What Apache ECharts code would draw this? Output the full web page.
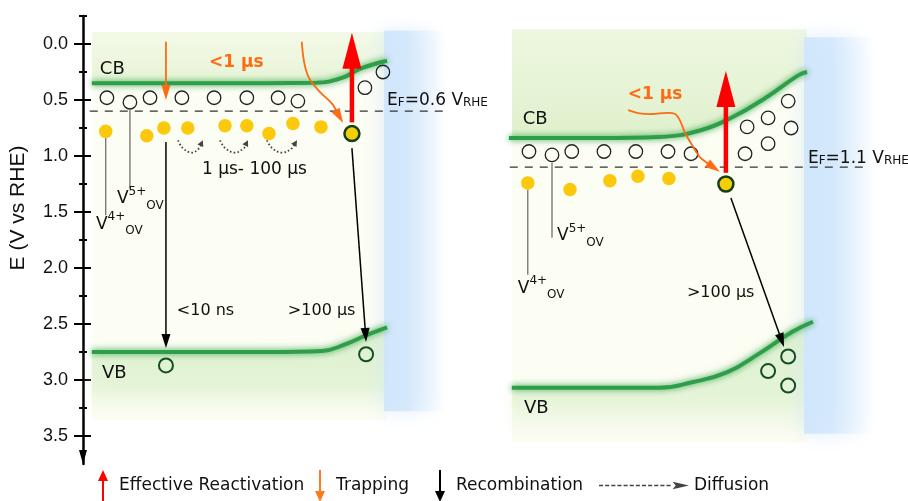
<!DOCTYPE html>
<html>
<head>
<meta charset="utf-8">
<script src="https://cdn.jsdelivr.net/npm/echarts@6/dist/echarts.min.js"></script>
<style>
  html, body { margin: 0; padding: 0; background: #ffffff; }
  #chart { width: 908px; height: 501px; }
</style>
</head>
<body>
<div id="chart"></div>
<script>
// ---------------------------------------------------------------
// Energy scale (V vs RHE), increasing downward
// ---------------------------------------------------------------
const energyTicks = [0, 0.5, 1, 1.5, 2, 2.5, 3, 3.5];
const energyMinorTicks = [-0.25, 0.25, 0.75, 1.25, 1.75, 2.25, 2.75, 3.25];

// Position across the film: 0 = back side, 100 = electrolyte interface.
// Film A: EF = 0.6 V_RHE
const fermiA = 0.6;
const conductionA = [[0, 0.35], [40, 0.35], [76, 0.345], [85, 0.30], [91, 0.22], [100, 0.15]];
const valenceA = [[0, 2.75], [60, 2.75], [78, 2.74], [86, 2.68], [93, 2.60], [100, 2.53]];
const emptyStatesA = [[5.1, 0.48], [12.9, 0.52], [19.7, 0.48], [30.5, 0.48], [41.4, 0.48],
  [52.5, 0.48], [63.1, 0.48], [69.8, 0.51], [92.5, 0.39], [98.6, 0.25]];
const filledStatesA = [[4.7, 0.78], [18.6, 0.82], [24.4, 0.75], [32.5, 0.75], [45.1, 0.73],
  [52.5, 0.73], [60, 0.80], [68.1, 0.71], [77.6, 0.74]];
const activeElectronA = [[88.1, 0.80]];
const holesA = [[25.1, 2.87], [92.9, 2.77]];
const reactivationA = [[[88.1, 0.70], [88.1, -0.10]]];
const trappingA = [
  [[25.1, -0.02], [25.1, 0.50]],
  [[71.1, -0.02], [71.6, 0.11], [72.5, 0.23], [73.9, 0.32], [77.3, 0.43], [81.3, 0.53], [85.1, 0.705]]
];
const recombinationA = [[[25.1, 0.875], [25.1, 2.714]], [[88.1, 0.93], [92.9, 2.66]]];
const diffusionA = [
  [[29.2, 0.86], [30.8, 0.93], [33.9, 0.97], [36.4, 0.93], [37.6, 0.86]],
  [[43.4, 0.86], [45.2, 0.93], [48.5, 0.97], [51.5, 0.93], [52.9, 0.86]],
  [[59.3, 0.86], [61.1, 0.93], [64.4, 0.97], [67.8, 0.93], [69.5, 0.86]]
];
const leadersA = [[[4.7, 0.84], [4.7, 1.53]], [[12.9, 0.59], [12.9, 1.29]]];

// Film B: EF = 1.1 V_RHE
const fermiB = 1.1;
const conductionB = [[-1, 0.84], [30, 0.84], [50, 0.83], [64, 0.77], [75, 0.65], [86, 0.48], [97, 0.28], [100, 0.25]];
const valenceB = [[0, 3.07], [50, 3.07], [61, 3.02], [73, 2.93], [84, 2.76], [95, 2.57], [102, 2.48]];
const emptyStatesB = [[5.8, 0.96], [13.6, 0.99], [20.3, 0.96], [31.2, 0.96], [42, 0.96], [52.9, 0.96],
  [60.7, 0.98], [79, 0.98], [86.8, 0.89], [79.7, 0.74], [86.8, 0.66], [94.6, 0.75], [93.6, 0.51]];
const filledStatesB = [[5.4, 1.24], [19.7, 1.30], [33.2, 1.22], [42.7, 1.18], [53.2, 1.20]];
const activeElectronB = [[72.5, 1.25]];
const holesB = [[93.6, 2.79], [86.8, 2.92], [93.6, 3.05]];
const reactivationB = [[[72.5, 1.15], [72.5, 0.24]]];
const trappingB = [[[39.4, 0.59], [43.4, 0.62], [47.8, 0.625], [52.5, 0.615], [55.3, 0.625], [56.9, 0.68],
  [58.6, 0.79], [61, 0.90], [63.7, 1.01], [67.1, 1.08], [70.5, 1.14]]];
const recombinationB = [[[74.2, 1.375], [92.2, 2.705]]];
const leadersB = [[[5.4, 1.30], [5.4, 2.06]], [[13.6, 1.06], [13.6, 1.73]]];

// ---------------------------------------------------------------
// Styling helpers
// ---------------------------------------------------------------
const diagramFont = '"DejaVu Sans", Verdana, sans-serif';
const axisFont = '"Liberation Sans", Arial, sans-serif';
const LG = echarts.graphic.LinearGradient;

const Y_A = 0, Y_B = 4;   // y axis used by each film

function panelSeries(gi, yi, cb, vb, box) {
  return {
    type: 'custom', xAxisIndex: gi, yAxisIndex: yi, silent: true, z: 1,
    data: [[0, box.top]],
    renderItem(params, api) {
      const p = (d) => api.coord(d);
      const tl = p([0, box.top]), br = p([100, box.bottom]);
      const kids = [];
      kids.push({ type: 'rect', shape: { x: tl[0], y: tl[1], width: br[0] - tl[0], height: br[1] - tl[1] },
        style: { fill: '#fcfdf3' } });
      // tint above the conduction band
      const topPts = [p([0, box.top]), p([100, box.top])]
        .concat(cb.slice().reverse().map(d => p([Math.max(0, Math.min(100, d[0])), d[1]])));
      kids.push({ type: 'polygon', shape: { points: topPts },
        style: { fill: new LG(0, 0, 0, 1, [
          { offset: 0, color: 'rgba(228,243,210,' + box.topTint[0] + ')' },
          { offset: 1, color: 'rgba(220,239,200,' + box.topTint[1] + ')' }]) } });
      // tint below the valence band
      const botPts = vb.map(d => p([Math.max(0, Math.min(100, d[0])), d[1]]))
        .concat([p([100, box.bottom - 0.06]), p([0, box.bottom - 0.06])]);
      kids.push({ type: 'polygon', shape: { points: botPts },
        style: { fill: new LG(0, 0, 0, 1, [
          { offset: 0, color: 'rgba(210,237,194,0.7)' },
          { offset: 0.7, color: 'rgba(220,240,204,0.5)' },
          { offset: 1, color: 'rgba(250,252,240,0.15)' }]),
          shadowBlur: 14, shadowColor: 'rgba(218,239,202,0.7)' } });
      // electrolyte side
      const b0 = p([box.blue[0], box.blueTop]), b1 = p([box.blue[1], box.blueBottom]);
      kids.push({ type: 'rect', shape: { x: b0[0], y: b0[1], width: b1[0] - b0[0], height: b1[1] - b0[1] },
        style: { fill: new LG(0, 0, 1, 0, [
          { offset: 0, color: 'rgba(206,229,251,0.9)' },
          { offset: 0.4, color: 'rgba(210,231,251,0.8)' },
          { offset: 1, color: 'rgba(228,240,252,0.0)' }]),
          shadowBlur: 18, shadowColor: 'rgba(210,231,251,0.85)' } });
      return { type: 'group', children: kids };
    }
  };
}

function bandSeries(gi, yi, data) {
  return {
    type: 'line', xAxisIndex: gi, yAxisIndex: yi, data, smooth: 0.45, symbol: 'none', silent: true, z: 3,
    lineStyle: { color: '#2f9e48', width: 4, shadowBlur: 6, shadowColor: 'rgba(40,160,70,0.95)' }
  };
}

function fermiSeries(gi, yi, ef) {
  return {
    type: 'line', xAxisIndex: gi, yAxisIndex: yi, data: [[-0.7, ef], [120.3, ef]],
    symbol: 'none', silent: true, z: 3,
    lineStyle: { color: '#333', width: 1.3, type: [8, 7] }
  };
}

function leaderSeries(gi, yi, paths) {
  return {
    type: 'custom', xAxisIndex: gi, yAxisIndex: yi, silent: true, z: 3,
    data: paths.map(p => p[0]),
    renderItem(params, api) {
      const pts = paths[params.dataIndex].map(d => api.coord(d));
      return { type: 'polyline', shape: { points: pts }, style: { stroke: '#666', lineWidth: 1.2, fill: null } };
    }
  };
}

function dotSeries(gi, yi, data, st) {
  return {
    type: 'scatter', xAxisIndex: gi, yAxisIndex: yi, data, silent: true, z: 5,
    symbol: 'circle', symbolSize: st.size,
    itemStyle: { color: st.fill, borderColor: st.stroke || 'rgba(0,0,0,0)', borderWidth: st.lw || 0, opacity: 1 }
  };
}

function arrowSeries(name, gi, yi, paths, st) {
  return {
    name, type: 'custom', xAxisIndex: gi, yAxisIndex: yi, silent: true, z: st.z || 6,
    itemStyle: { color: st.color },
    data: paths.map(p => p[p.length - 1]),
    renderItem(params, api) {
      const pts = paths[params.dataIndex].map(d => api.coord(d));
      const n = pts.length;
      const tip = pts[n - 1], prev = pts[n - 2];
      const dx = tip[0] - prev[0], dy = tip[1] - prev[1];
      const len = Math.hypot(dx, dy) || 1;
      const ux = dx / len, uy = dy / len, nx = -uy, ny = ux;
      const bx = tip[0] - ux * st.head, by = tip[1] - uy * st.head;
      const stop = [tip[0] - ux * st.head * 0.7, tip[1] - uy * st.head * 0.7];
      const shaft = pts.slice(0, n - 1).concat([stop]);
      const head = [tip, [bx + nx * st.half, by + ny * st.half], [bx - nx * st.half, by - ny * st.half]];
      return {
        type: 'group', children: [
          { type: 'polyline', shape: { points: shaft, smooth: n > 2 ? (st.smooth || 0.3) : 0 },
            style: { stroke: st.color, lineWidth: st.width, fill: null, lineDash: st.dash || null, lineCap: 'butt' } },
          { type: 'polygon', shape: { points: head }, style: { fill: st.color } }
        ]
      };
    }
  };
}

function textSeries(gi, yi, items) {
  return {
    type: 'custom', xAxisIndex: gi, yAxisIndex: yi, silent: true, z: 8,
    data: items.map(t => t.at),
    renderItem(params, api) {
      const t = items[params.dataIndex];
      const pt = api.coord(t.at);
      return {
        type: 'text', x: pt[0], y: pt[1],
        style: Object.assign({
          text: t.text, align: t.align || 'left', verticalAlign: 'middle',
          fontFamily: diagramFont, fontSize: 16, fill: '#111', rich: t.rich
        }, t.style || {})
      };
    }
  };
}

const stateRich = {
  v: { fontSize: 17, fontFamily: diagramFont, lineHeight: 26, verticalAlign: 'middle', fill: '#111' },
  sup: { fontSize: 12, fontFamily: diagramFont, lineHeight: 10, verticalAlign: 'top', fill: '#111' },
  sub: { fontSize: 12, fontFamily: diagramFont, lineHeight: 16, verticalAlign: 'bottom', fill: '#111' }
};
const efRich = {
  b: { fontSize: 17, fontFamily: diagramFont, lineHeight: 20, verticalAlign: 'bottom', fill: '#111' },
  s: { fontSize: 12, fontFamily: diagramFont, lineHeight: 16, verticalAlign: 'bottom', fill: '#111' }
};
const stateLabel = (n) => '{v|V}{sup|' + n + '+}{sub|OV}';
const efLabel = (ef) => '{b|E}{s|F}{b|=' + ef.toFixed(1) + ' V}{s|RHE}';

const bandText = { fontSize: 18 };
const fastText = { fontSize: 17, fontWeight: 'bold', fill: '#ff6a13' };

const labelsA = [
  { at: [2.7, 0.223], text: 'CB', style: bandText },
  { at: [39.7, 0.17], text: '<1 µs', style: fastText },
  { at: [37.3, 1.125], text: '1 µs- 100 µs', style: { fontSize: 17 } },
  { at: [100, 0.49], text: efLabel(fermiA), rich: efRich },
  { at: [28.8, 2.384], text: '<10 ns' },
  { at: [66.4, 2.384], text: '>100 µs' },
  { at: [3.4, 2.94], text: 'VB', style: bandText },
  { at: [8.5, 1.38], text: stateLabel(5), rich: stateRich },
  { at: [1.4, 1.61], text: stateLabel(4), rich: stateRich }
];
const labelsB = [
  { at: [3.7, 0.67], text: 'CB', style: bandText },
  { at: [39.3, 0.45], text: '<1 µs', style: fastText },
  { at: [100.3, 1.01], text: efLabel(fermiB), rich: efRich },
  { at: [59.3, 2.22], text: '>100 µs' },
  { at: [4.1, 3.25], text: 'VB', style: bandText },
  { at: [15.3, 1.71], text: stateLabel(5), rich: stateRich },
  { at: [2.0, 2.18], text: stateLabel(4), rich: stateRich }
];

const redArrow = { color: '#ff0000', width: 4.5, head: 36, half: 9.5 };
const orangeArrow = { color: '#ff6a13', width: 1.8, head: 15, half: 4.5 };
const blackArrow = { color: '#000000', width: 1.5, head: 14, half: 4.5 };
const dotArrow = { color: '#444444', width: 1.8, head: 6, half: 3.2, dash: [1.6, 2.2], smooth: 0.4 };

const emptyStyle = { size: 13.5, fill: 'rgba(255,255,255,0)', stroke: '#222', lw: 1.3 };
const filledStyle = { size: 13.5, fill: '#fbc80b' };
const activeStyle = { size: 15, fill: '#f3cf07', stroke: '#173d17', lw: 2.5 };
const holeStyle = { size: 14, fill: 'rgba(255,255,255,0)', stroke: '#154d24', lw: 2 };

const boxA = { top: -0.11, bottom: 3.36, blue: [99, 120], blueTop: -0.12, blueBottom: 3.28, topTint: [0.35, 0.7] };
const boxB = { top: -0.13, bottom: 3.56, blue: [99, 123], blueTop: -0.06, blueBottom: 3.48, topTint: [0.6, 0.9] };

// ---------------------------------------------------------------
// Axes
// ---------------------------------------------------------------
const energyBase = { type: 'value', min: -0.25, max: 3.75, inverse: true, splitLine: { show: false } };
const tickLine = { color: '#000', width: 2 };
const yAxes = [
  Object.assign({}, energyBase, {
    gridIndex: 0, position: 'left',
    axisLine: { show: true, onZero: false, lineStyle: { color: '#000', width: 2.5 },
      symbol: ['triangle', 'none'], symbolSize: [8, 14], symbolOffset: [7, 0] },
    axisTick: { show: true, customValues: energyTicks, length: 9, lineStyle: tickLine },
    axisLabel: { show: true, customValues: energyTicks, formatter: v => v.toFixed(1), margin: 15,
      fontSize: 18, color: '#111', fontFamily: axisFont }
  }),
  Object.assign({}, energyBase, {
    gridIndex: 0, position: 'left', axisLine: { show: false, onZero: false },
    axisTick: { show: true, inside: true, customValues: energyTicks, length: 8, lineStyle: tickLine },
    axisLabel: { show: false }
  }),
  Object.assign({}, energyBase, {
    gridIndex: 0, position: 'left', axisLine: { show: false, onZero: false },
    axisTick: { show: true, customValues: energyMinorTicks, length: 4, lineStyle: tickLine },
    axisLabel: { show: false }
  }),
  Object.assign({}, energyBase, {
    gridIndex: 0, position: 'left', axisLine: { show: false, onZero: false },
    axisTick: { show: true, inside: true, customValues: energyMinorTicks, length: 4, lineStyle: tickLine },
    axisLabel: { show: false }
  }),
  Object.assign({}, energyBase, { gridIndex: 1, show: false, axisLine: { onZero: false } })
];

// ---------------------------------------------------------------
// Legend icons
// ---------------------------------------------------------------
const upArrowIcon = 'path://M5,0 L10,11 L6,11 L6,32 L4,32 L4,11 L0,11 Z';
const downArrowIcon = 'path://M4,0 L6,0 L6,21 L10,21 L5,32 L0,21 L4,21 Z';
let dashPath = '';
for (let x = 0; x < 70; x += 6) dashPath += 'M' + x + ',3.2 h4 v1.6 h-4 Z ';
const dashedArrowIcon = 'path://' + dashPath + 'M72,0.4 L88,4 L72,7.6 L75,4 Z';
const legendText = { fontSize: 17, fontFamily: diagramFont, color: '#111' };
function legendItem(name, icon, color, left, top, w, h, textExtra) {
  return {
    data: [{ name, icon, itemStyle: { color } }], left, top, itemWidth: w, itemHeight: h,
    padding: 0, selectedMode: false, orient: 'horizontal',
    textStyle: Object.assign({}, legendText, textExtra || {})
  };
}

const option = {
  animation: false,
  backgroundColor: '#ffffff',
  grid: [
    { left: 83, top: 16, width: 369, height: 448, outerBoundsMode: 'none' },
    { left: 503, top: 16, width: 369, height: 448, outerBoundsMode: 'none' }
  ],
  xAxis: [
    { gridIndex: 0, type: 'value', min: -3, max: 122, show: false },
    { gridIndex: 1, type: 'value', min: -3, max: 122, show: false }
  ],
  yAxis: yAxes,
  legend: [
    legendItem('Effective Reactivation', upArrowIcon, '#ff0000', 98, 470, 22, 32),
    legendItem('Trapping', downArrowIcon, '#ff7a1a', 315, 470, 22, 32, { padding: [0, 0, 8, 0] }),
    legendItem('Recombination', downArrowIcon, '#000000', 435, 470, 22, 32),
    legendItem('Diffusion', dashedArrowIcon, '#444444', 599, 477, 90, 10)
  ],
  graphic: [{
    type: 'text', x: 18, y: 208, rotation: Math.PI / 2,
    style: { text: 'E (V vs RHE)', fontFamily: axisFont, fontSize: 21, fill: '#111',
      align: 'center', verticalAlign: 'middle' }
  }],
  series: [
    panelSeries(0, Y_A, conductionA, valenceA, boxA),
    panelSeries(1, Y_B, conductionB, valenceB, boxB),
    bandSeries(0, Y_A, conductionA), bandSeries(0, Y_A, valenceA),
    bandSeries(1, Y_B, conductionB), bandSeries(1, Y_B, valenceB),
    fermiSeries(0, Y_A, fermiA), fermiSeries(1, Y_B, fermiB),
    leaderSeries(0, Y_A, leadersA), leaderSeries(1, Y_B, leadersB),
    dotSeries(0, Y_A, emptyStatesA, emptyStyle), dotSeries(1, Y_B, emptyStatesB, emptyStyle),
    dotSeries(0, Y_A, filledStatesA, filledStyle), dotSeries(1, Y_B, filledStatesB, filledStyle),
    dotSeries(0, Y_A, activeElectronA, activeStyle), dotSeries(1, Y_B, activeElectronB, activeStyle),
    dotSeries(0, Y_A, holesA, holeStyle), dotSeries(1, Y_B, holesB, holeStyle),
    arrowSeries('Recombination', 0, Y_A, recombinationA, blackArrow),
    arrowSeries('Recombination', 1, Y_B, recombinationB, blackArrow),
    arrowSeries('Diffusion', 0, Y_A, diffusionA, dotArrow),
    arrowSeries('Trapping', 0, Y_A, trappingA, orangeArrow),
    arrowSeries('Trapping', 1, Y_B, trappingB, orangeArrow),
    arrowSeries('Effective Reactivation', 0, Y_A, reactivationA, redArrow),
    arrowSeries('Effective Reactivation', 1, Y_B, reactivationB, redArrow),
    textSeries(0, Y_A, labelsA), textSeries(1, Y_B, labelsB)
  ]
};

const chart = echarts.init(document.getElementById('chart'), null, { renderer: 'canvas' });
chart.setOption(option);
</script>
</body>
</html>
